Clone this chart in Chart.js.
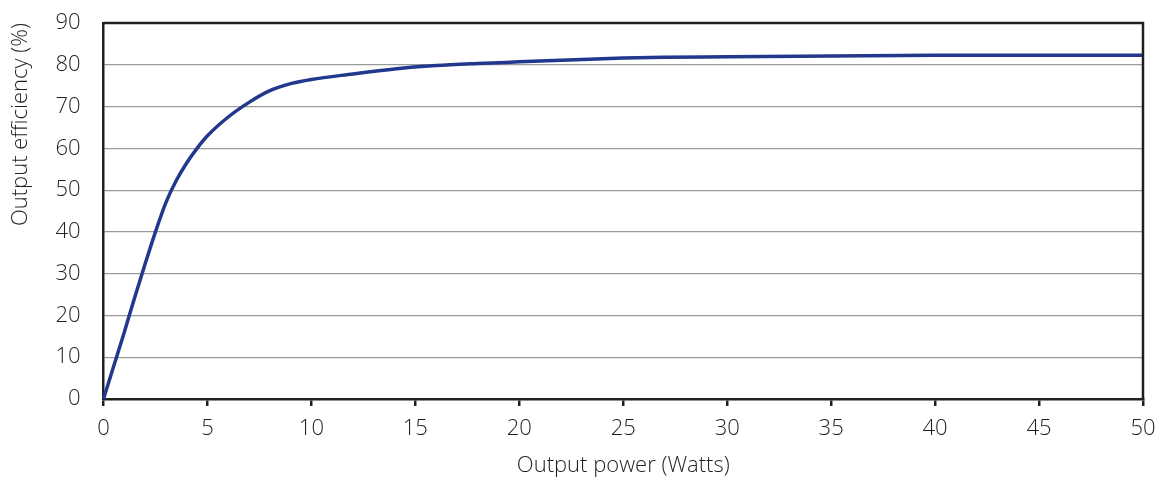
<!DOCTYPE html>
<html>
<head>
<meta charset="utf-8">
<script src="https://cdn.jsdelivr.net/npm/chart.js@4"></script>
<style>
  html, body { margin: 0; padding: 0; background: #ffffff; }
  #wrap { width: 1160px; height: 479px; }
</style>
</head>
<body>
<div id="wrap"><canvas id="chart" width="1160" height="479"></canvas></div>
<script>
// Output power (W) and efficiency (%)
const powerWatts = [0, 0.5, 1, 1.5, 2, 2.5, 3, 3.5, 4, 4.5, 5, 6, 7, 8, 9, 10, 12, 14, 16, 18, 20, 22, 25, 27, 30, 35, 40, 45, 50];
const efficiency = [0, 8, 16, 24.3, 32.3, 40, 47, 52.3, 56.5, 60, 63, 67.5, 71, 73.8, 75.5, 76.5, 77.8, 79, 79.8, 80.3, 80.7, 81.1, 81.6, 81.8, 81.9, 82.1, 82.3, 82.3, 82.3];

const xTicks = [0, 5, 10, 15, 20, 25, 30, 35, 40, 45, 50];
const yTicks = [0, 10, 20, 30, 40, 50, 60, 70, 80, 90];

const axisColor = '#231f20';
const gridColor = '#9a9a9a';
const lineColor = '#22388c';
const textColor = '#231f20';
const fontFamily = '"Open Sans", sans-serif';
const fontWeight = 300;

// Box around the plot area (top and right edges)
const frame = {
  id: 'frame',
  afterDraw(chart) {
    const { ctx, chartArea: a } = chart;
    ctx.save();
    ctx.strokeStyle = axisColor;
    ctx.lineWidth = 2.5;
    ctx.beginPath();
    ctx.moveTo(a.left, a.top);
    ctx.lineTo(a.right, a.top);
    ctx.lineTo(a.right, a.bottom);
    ctx.stroke();
    ctx.restore();
  }
};

const points = powerWatts.map((p, i) => ({ x: p, y: efficiency[i] }));

new Chart(document.getElementById('chart').getContext('2d'), {
  type: 'line',
  data: {
    datasets: [{
      data: points,
      borderColor: lineColor,
      borderWidth: 3.5,
      pointRadius: 0,
      fill: false,
      cubicInterpolationMode: 'monotone',
      clip: false
    }]
  },
  options: {
    responsive: false,
    animation: false,
    layout: { padding: { top: 23, right: 17, left: 0, bottom: 0 } },
    plugins: {
      legend: { display: false },
      tooltip: { enabled: false }
    },
    scales: {
      x: {
        type: 'linear',
        min: 0,
        max: 50,
        afterBuildTicks(scale) { scale.ticks = xTicks.map(v => ({ value: v })); },
        afterFit(scale) {
          scale.height = 80;
          scale.paddingLeft = 0;
          scale.paddingRight = 0;
        },
        border: { color: axisColor, width: 2.5 },
        grid: { drawOnChartArea: false, drawTicks: true, tickLength: 7, color: axisColor, lineWidth: 2.5 },
        ticks: { color: textColor, font: { family: fontFamily, size: 22, weight: fontWeight }, padding: 10, maxRotation: 0 },
        title: {
          display: true,
          text: 'Output power (Watts)',
          color: textColor,
          font: { family: fontFamily, size: 22, weight: fontWeight },
          padding: { top: 4, bottom: 0 }
        }
      },
      y: {
        type: 'linear',
        min: 0,
        max: 90,
        afterBuildTicks(scale) { scale.ticks = yTicks.map(v => ({ value: v })); },
        afterFit(scale) {
          scale.width = 103.5;
          scale.paddingTop = 0;
          scale.paddingBottom = 0;
        },
        border: { color: axisColor, width: 2.5 },
        grid: { color: gridColor, lineWidth: 1.2, drawTicks: false },
        ticks: { color: textColor, font: { family: fontFamily, size: 22, weight: fontWeight }, padding: 23 },
        title: {
          display: true,
          text: 'Output efficiency (%)',
          align: 'end',
          color: textColor,
          font: { family: fontFamily, size: 22, weight: fontWeight },
          padding: { top: 8, bottom: 0 }
        }
      }
    }
  },
  plugins: [frame]
});
</script>
</body>
</html>
